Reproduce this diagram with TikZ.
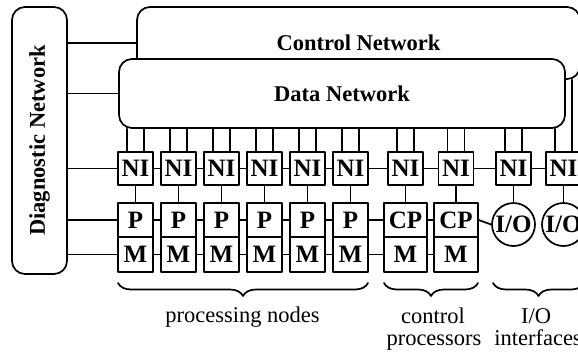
\documentclass[tikz,border=0pt]{standalone}
\usepackage{fontspec}
\usepackage{graphicx}
\setmainfont{Liberation Serif}
\usetikzlibrary{decorations.pathreplacing}

\newcommand{\netfont}{\fontsize{22.5}{26}\selectfont\bfseries}
\newcommand{\boxfont}{\fontsize{25}{28}\selectfont\bfseries}
\newcommand{\labfont}{\fontsize{22.5}{26}\selectfont}

\tikzset{
  net/.style={draw, rounded corners=13pt, inner sep=0pt, font=\netfont},
  nibox/.style={draw, minimum width=35pt, minimum height=33pt, inner sep=0pt, font=\boxfont},
  pmbox/.style={draw, minimum width=35pt, minimum height=34.5pt, inner sep=0pt, font=\boxfont},
  iocirc/.style={circle, draw, minimum size=43pt, inner sep=0pt, font=\boxfont},
  lab/.style={inner sep=0pt, font=\labfont},
  brace/.style={decorate, decoration={brace, mirror, amplitude=13pt}},
}

\begin{document}
\begin{tikzpicture}[x=1pt, y=-1pt, line width=1.7pt, line join=round, line cap=round]
	\useasboundingbox (0,0) rectangle (578,353);
	\clip (0,0) rectangle (578,353);
	% networks
	\node[net, minimum width=443pt, minimum height=72pt] (ctrl) at (358.5,43) {Control Network};
	\node[net, fill=white, minimum width=446pt, minimum height=69pt] (data) at (342,93.5) {Data Network};
	\node[net, minimum width=55pt, minimum height=267pt] (diag) at (39.5,140.5) {\rotatebox{90}{Diagnostic Network}};
	% processing nodes
	\foreach \i/\x in {1/135.5,2/178.5,3/221.5,4/264.5,5/307.5,6/350.5}{
		\node[nibox] (ni\i) at (\x,168.5) {NI};
		\node[pmbox] (p\i) at (\x,220) {P};
		\node[pmbox] (m\i) at (\x,254.5) {M};
	}
	% control processors
	\foreach \i/\x in {7/405.5,8/456}{
		\node[nibox] (ni\i) at (\x,168.5) {NI};
		\node[pmbox, minimum width=43.5pt] (p\i) at (\x,220) {CP};
		\node[pmbox, minimum width=43.5pt] (m\i) at (\x,254.5) {M};
	}
	% I/O interfaces
	\foreach \i/\x in {9/513.5,10/563.5}{
		\node[nibox] (ni\i) at (\x,168.5) {NI};
		\node[iocirc] (p\i) at (\x,224.5) {I/O};
	}
	% wires up to the networks
	\foreach \i in {1,...,9}{
		\draw ([xshift=-8.5pt]ni\i.north) -- ([xshift=-8.5pt]ni\i.north |- data.south);
		\draw ([xshift=8.5pt]ni\i.north) -- ([xshift=8.5pt]ni\i.north |- data.south);
	}
	\draw ([xshift=-8.5pt]ni10.north) -- ([xshift=-8.5pt]ni10.north |- data.south);
	\draw ([xshift=8.5pt]ni10.north) -- ([xshift=8.5pt]ni10.north |- ctrl.south);
	\foreach \i in {1,...,10}
		\draw (ni\i.south) -- (p\i.north);
	% rows
	\foreach \a/\b in {1/2,2/3,3/4,4/5,5/6,6/7,7/8,8/9,9/10}
		\draw (ni\a.east) -- (ni\b.west);
	\foreach \a/\b in {1/2,2/3,3/4,4/5,5/6,6/7,7/8,8/9}
		\draw (p\a.east) -- (p\b.west);
	\foreach \a/\b in {1/2,2/3,3/4,4/5,5/6,6/7,7/8}
		\draw (m\a.east) -- (m\b.west);
	% diagnostic links
	\draw (diag.east |- ctrl.west) -- (ctrl.west);
	\draw (diag.east |- data.west) -- (data.west);
	\draw (diag.east |- ni1.west) -- (ni1.west);
	\draw (diag.east |- p1.west) -- (p1.west);
	\draw (diag.east |- m1.west) -- (m1.west);
	% braces and labels
	\coordinate (pnl) at (118,283);
	\coordinate (pnr) at (368,283);
	\coordinate (cpl) at (384,283);
	\coordinate (cpr) at (478,283);
	\coordinate (iol) at (493,283);
	\coordinate (ior) at (584,283);
	\draw[brace] (pnl) -- (pnr);
	\draw[brace] (cpl) -- (cpr);
	\draw[brace] (iol) -- (ior);
	\node[lab, anchor=base] (pnlab) at (242.5,322) {processing nodes};
	\node[lab, anchor=base] (cplab) at (433,323) {control};
	\node[lab, anchor=base] (cplabb) at (434,345) {processors};
	\node[lab, anchor=base] (iolab) at (536,323) {I/O};
	\node[lab, anchor=base] (iolabb) at (538,345) {interfaces};
\end{tikzpicture}
\end{document}
